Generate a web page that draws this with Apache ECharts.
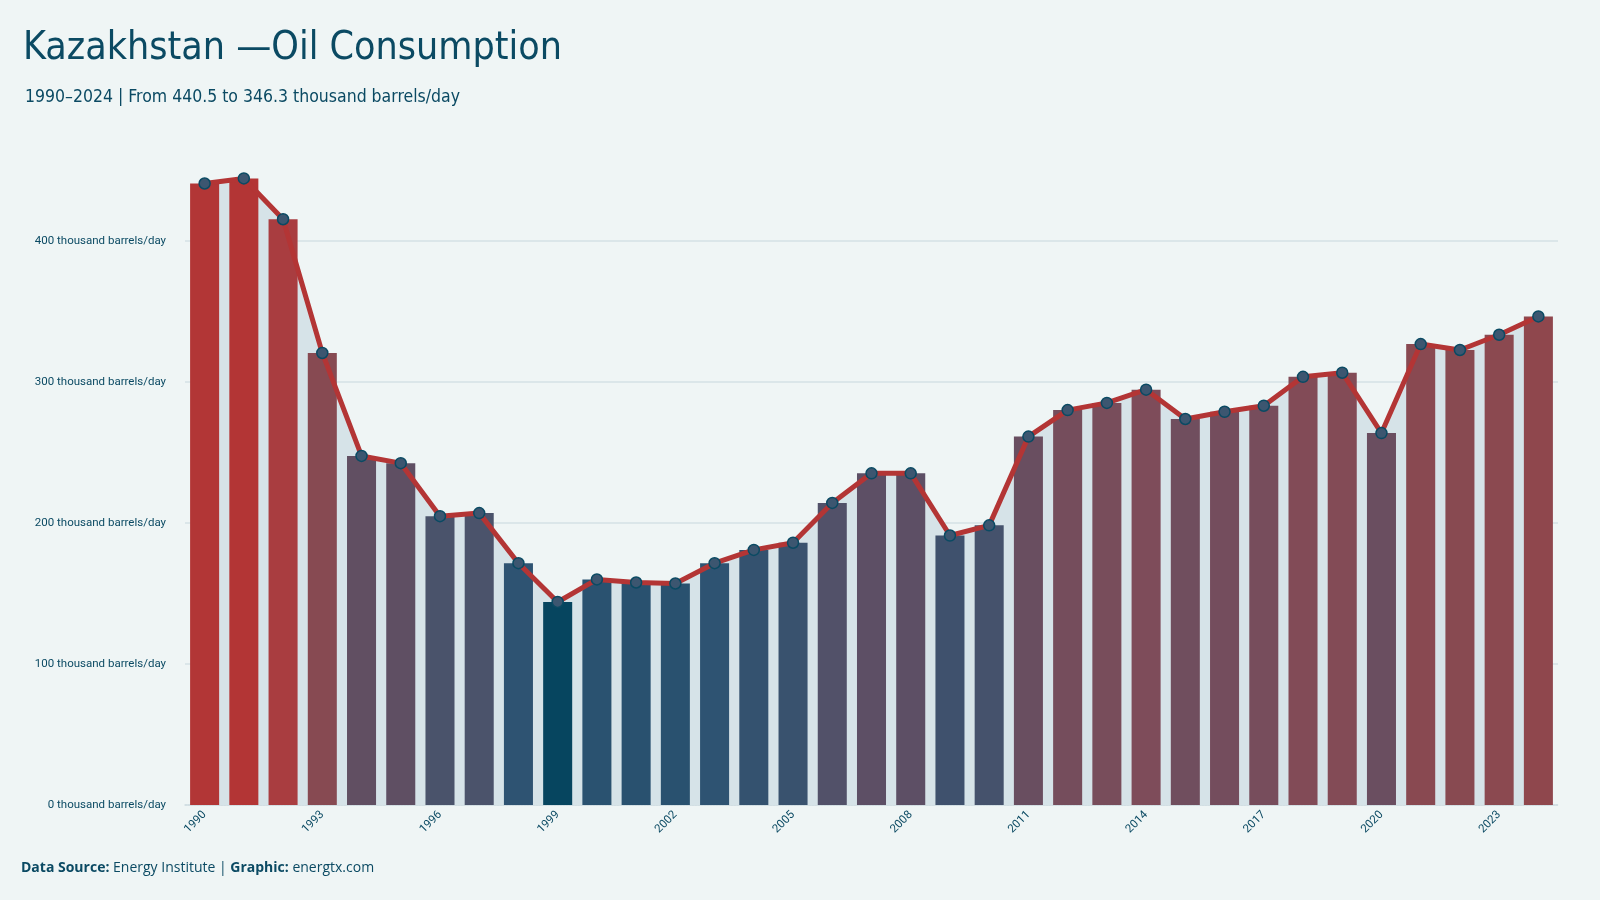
<!DOCTYPE html>
<html>
<head>
<meta charset="utf-8">
<title>Kazakhstan — Oil Consumption</title>
<script src="https://cdn.jsdelivr.net/npm/echarts@6/dist/echarts.min.js"></script>
<style>
    html, body { margin: 0; padding: 0; background: #eff5f5; }
    #main { width: 1600px; height: 900px; }
</style>
</head>
<body>
<div id="main"></div>
<script>
// 年份
var years = ['1990', '1991', '1992', '1993', '1994', '1995', '1996', '1997', '1998', '1999',
    '2000', '2001', '2002', '2003', '2004', '2005', '2006', '2007', '2008', '2009',
    '2010', '2011', '2012', '2013', '2014', '2015', '2016', '2017', '2018', '2019',
    '2020', '2021', '2022', '2023', '2024'];

// 石油消费 (thousand barrels/day)
var consumption = [440.5, 444.1, 415.2, 320.4, 247.4, 242.3, 204.7, 206.9, 171.4, 143.9,
    159.9, 157.7, 157.0, 171.4, 180.8, 185.9, 214.1, 235.1, 235.1, 191.0,
    198.2, 261.1, 279.9, 285.0, 294.4, 273.6, 278.7, 283.0, 303.5, 306.4,
    263.6, 326.7, 322.5, 333.3, 346.3];

// y轴刻度
var yTicks = [0, 100, 200, 300, 400];

// 柱子颜色 低 -> 高 (每12.5一档)
var barColors = ['#06455f', '#29516f', '#2d5373', '#34526f', '#42516c', '#4b536b', '#565068', '#5c4f66',
    '#5f4f63', '#664e61', '#6d4e5f', '#764d5c', '#7e4c5a', '#834b56', '#874a52', '#8b4950',
    '#8e474e', '#94464b', '#994449', '#9e4246', '#a34043', '#a73e41', '#aa3c3f', '#af383a', '#b33535'];

window.onload = function () {
    var dom = document.getElementById('main');
    var myChart = echarts.init(dom);

    var minV = Math.min.apply(null, consumption);
    var maxV = Math.max.apply(null, consumption);
    var textColor = '#0b4a63';

    var option = {
        backgroundColor: '#eff5f5',
        animation: false,
        title: [{
            text: 'Kazakhstan \u2014Oil Consumption',
            left: 18,
            top: 24,
            textStyle: {
                fontFamily: "'DejaVu Sans Condensed', 'Liberation Sans Narrow', Roboto",
                fontWeight: 'normal',
                fontSize: 39,
                color: textColor
            }
        }, {
            text: '1990\u20132024 | From 440.5 to 346.3 thousand barrels/day',
            left: 20,
            top: 83,
            textStyle: {
                fontFamily: "'DejaVu Sans Condensed', 'Liberation Sans Narrow', Roboto",
                fontWeight: 'normal',
                fontSize: 17.5,
                color: textColor
            }
        }],
        graphic: [{
            type: 'text',
            left: 21,
            top: 861,
            style: {
                text: '{b|Data Source:} Energy Institute | {b|Graphic:} energtx.com',
                font: '14px "Open Sans"',
                fill: textColor,
                rich: {
                    b: { fontWeight: 'bold', fontSize: 14, fontFamily: 'Open Sans', fill: textColor }
                }
            }
        }],
        visualMap: {
            show: false,
            type: 'continuous',
            seriesIndex: 1,
            dimension: 1,
            min: minV,
            max: maxV,
            inRange: { color: barColors }
        },
        grid: {
            left: 185,
            right: 42,
            top: 156,
            bottom: 95
        },
        xAxis: {
            type: 'category',
            data: years,
            boundaryGap: true,
            axisTick: { show: false },
            axisLine: { lineStyle: { color: '#cfdce1', type: 'dotted', width: 1.5 } },
            axisLabel: {
                interval: 2,
                rotate: 45,
                fontSize: 11.5,
                color: textColor,
                fontFamily: 'Roboto',
                margin: 8
            }
        },
        yAxis: {
            type: 'value',
            min: 0,
            max: 460,
            interval: 100,
            axisLine: { show: false },
            axisTick: { show: false },
            axisLabel: {
                fontSize: 11.5,
                color: textColor,
                fontFamily: 'Roboto',
                margin: 19,
                formatter: function (v) {
                    return yTicks.indexOf(v) > -1 ? v + ' thousand barrels/day' : '';
                }
            },
            splitLine: {
                lineStyle: {
                    // 最后一条(460)透明
                    color: ['#d5e1e5', '#d5e1e5', '#d5e1e5', '#d5e1e5', '#d5e1e5', 'rgba(0,0,0,0)'],
                    width: 1.5
                }
            }
        },
        series: [{
            // 底部面积
            type: 'line',
            data: consumption,
            symbol: 'none',
            lineStyle: { width: 0 },
            areaStyle: { color: '#d6e3e8', opacity: 1 },
            z: 1,
            silent: true
        }, {
            type: 'bar',
            data: consumption,
            barCategoryGap: '26%',
            z: 2
        }, {
            type: 'line',
            data: consumption,
            symbol: 'circle',
            symbolSize: 11,
            lineStyle: { color: '#b33535', width: 5 },
            itemStyle: { color: '#3c5670', borderColor: '#0a4a63', borderWidth: 1.5 },
            z: 3
        }]
    };

    myChart.setOption(option);
};
</script>
</body>
</html>
